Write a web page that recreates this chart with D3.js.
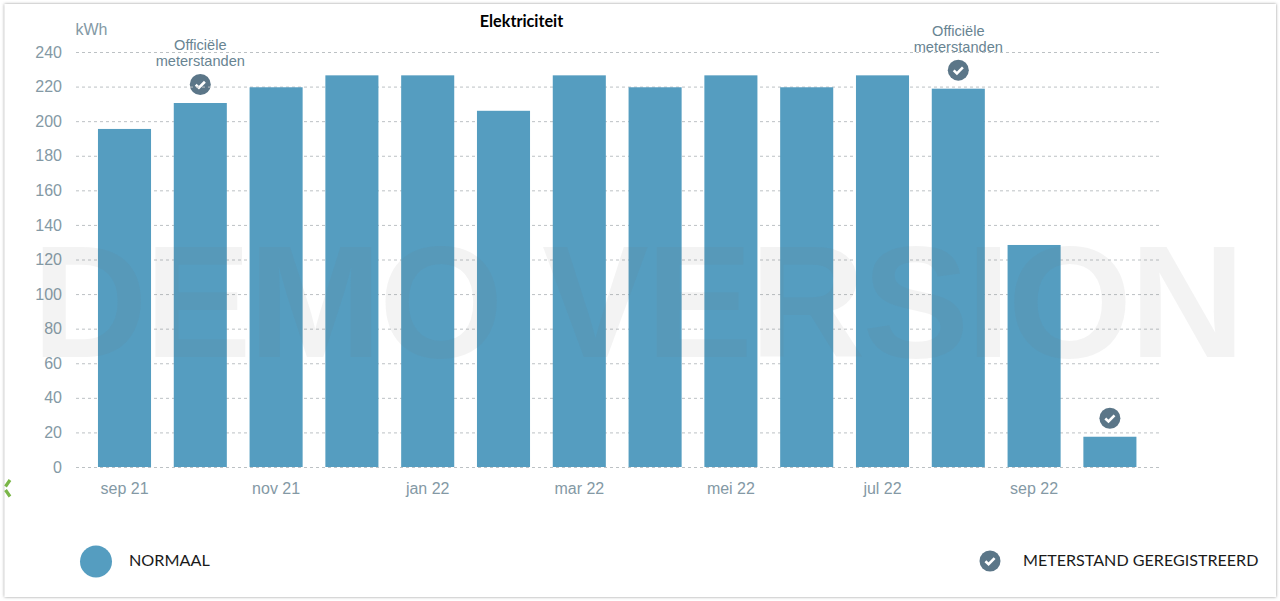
<!DOCTYPE html>
<html lang="nl">
<head>
<meta charset="utf-8">
<title>Elektriciteit</title>
<script src="https://cdn.jsdelivr.net/npm/d3@7/dist/d3.min.js"></script>
<style>
  html, body { margin: 0; padding: 0; background: #fff; overflow: hidden; }
  svg { display: block; }
  .axis text { font-family: "Liberation Sans", Arial, sans-serif; fill: #8499a5; }
  .axis path, .axis line { display: none; }
</style>
</head>
<body>
<svg id="chart" width="1280" height="601"></svg>
<script>
// Monthly electricity use in kWh
const months = ["sep 21", "okt 21", "nov 21", "dec 21", "jan 22", "feb 22", "mar 22",
                "apr 22", "mei 22", "jun 22", "jul 22", "aug 22", "sep 22", "okt 22"];
const usage = [195.5, 210.5, 219.6, 226.5, 226.5, 206, 226.5, 219.6, 226.5, 219.6, 226.5, 218.8, 128.4, 17.5];
const yTicks = [0, 20, 40, 60, 80, 100, 120, 140, 160, 180, 200, 220, 240];
const xTickLabels = ["sep 21", "nov 21", "jan 22", "mar 22", "mei 22", "jul 22", "sep 22"];
// Months with a registered meter reading, and those with the official caption
const registered = ["okt 21", "aug 22", "okt 22"];
const captioned = ["okt 21", "aug 22"];
const captionLines = ["Officiële", "meterstanden"];

const BAR = "#559dc0", ICON = "#5b7688", CAPTION = "#688492";

const svg = d3.select("#chart");

const defs = svg.append("defs");
defs.append("filter").attr("id", "cardShadow")
    .attr("x", "-2%").attr("y", "-2%").attr("width", "104%").attr("height", "104%")
  .append("feDropShadow")
    .attr("dx", 0).attr("dy", 0).attr("stdDeviation", 1.6)
    .attr("flood-color", "#777").attr("flood-opacity", 0.8);

// Card behind the chart
svg.append("rect")
    .attr("x", 4.5).attr("y", 4).attr("width", 1271.5).attr("height", 593)
    .attr("fill", "#fff").attr("filter", "url(#cardShadow)");

const x = d3.scaleBand().domain(months).range([86.6, 1147.8]).paddingInner(0.3).paddingOuter(0.15);
const y = d3.scaleLinear().domain([0, 240]).range([467, 52]);

svg.append("text")
    .attr("x", 521.5).attr("y", 27)
    .attr("text-anchor", "middle")
    .attr("font-family", "Lato, sans-serif").attr("font-weight", 700).attr("font-size", 16.2)
    .attr("fill", "#000")
    .text("Elektriciteit");

svg.append("text")
    .attr("x", 75.5).attr("y", 35)
    .attr("font-family", "'Liberation Sans', Arial, sans-serif").attr("font-size", 16)
    .attr("fill", "#8499a5")
    .text("kWh");

// Check badge, used on the chart and in the legend
function badge(sel, cx, cy) {
  const g = sel.append("g").attr("transform", `translate(${cx},${cy})`);
  g.append("circle").attr("r", 10.5).attr("fill", ICON);
  g.append("path").attr("d", "M-4.6,0.2 L-1.4,3.2 L4.6,-2.8")
    .attr("fill", "none").attr("stroke", "#fff").attr("stroke-width", 2.6);
}

const badges = svg.append("g");
registered.forEach(m => {
  badge(badges, x(m) + x.bandwidth() / 2, y(usage[months.indexOf(m)]) - 18.5);
});

// Grid
svg.append("g").selectAll("line").data(yTicks).join("line")
    .attr("x1", 76).attr("x2", 1159)
    .attr("y1", d => y(d) + 0.5).attr("y2", d => y(d) + 0.5)
    .attr("stroke", "#bcc1c4").attr("stroke-width", 1).attr("stroke-dasharray", "3 3");

// Bars
svg.append("g").selectAll("rect").data(months).join("rect")
    .attr("x", d => x(d))
    .attr("width", x.bandwidth())
    .attr("y", (d, i) => y(usage[i]))
    .attr("height", (d, i) => y(0) - y(usage[i]))
    .attr("fill", BAR);

// Captions above the badges
captioned.forEach(m => {
  const cx = x(m) + x.bandwidth() / 2;
  const top = y(usage[months.indexOf(m)]) - 18.5;
  captionLines.forEach((line, k) => {
    svg.append("text")
        .attr("x", cx).attr("y", top - 34.5 + k * 16)
        .attr("text-anchor", "middle")
        .attr("font-family", "'Liberation Sans', Arial, sans-serif").attr("font-size", 14.6)
        .attr("fill", CAPTION)
        .text(line);
  });
});

// Axes
svg.append("g").attr("class", "axis")
    .attr("transform", "translate(62,0)")
    .call(d3.axisLeft(y).tickValues(yTicks).tickSize(0).tickPadding(0))
    .call(g => g.selectAll("text").attr("font-size", 16));

svg.append("g").attr("class", "axis")
    .attr("transform", "translate(0,467)")
    .call(d3.axisBottom(x).tickValues(xTickLabels).tickSize(0).tickPadding(16))
    .call(g => g.selectAll("text").attr("font-size", 16));

// Watermark laid over the plot
svg.append("text")
    .attr("x", 32).attr("y", 357)
    .attr("textLength", 1213).attr("lengthAdjust", "spacing")
    .attr("font-family", "'Liberation Sans', Arial, sans-serif").attr("font-weight", 700).attr("font-size", 160)
    .attr("fill", "#777").attr("fill-opacity", 0.085)
    .text("DEMO VERSION");

// Green chevron cut off by the card's left edge
svg.append("path")
    .attr("d", "M10,480 L5.5,486.5 M5.5,490 L10,496.5")
    .attr("fill", "none").attr("stroke", "#7ab648").attr("stroke-width", 3.2);

// Legend
svg.append("circle").attr("cx", 96).attr("cy", 561.5).attr("r", 16).attr("fill", BAR);
svg.append("text").attr("x", 129).attr("y", 565.5)
    .attr("font-family", "Lato, sans-serif").attr("font-size", 16.2).attr("fill", "#1a1a1a")
    .text("NORMAAL");
badge(svg, 990, 561);
svg.append("text").attr("x", 1023).attr("y", 565.5)
    .attr("font-family", "Lato, sans-serif").attr("font-size", 16.1).attr("fill", "#1a1a1a")
    .text("METERSTAND GEREGISTREERD");
</script>
</body>
</html>
